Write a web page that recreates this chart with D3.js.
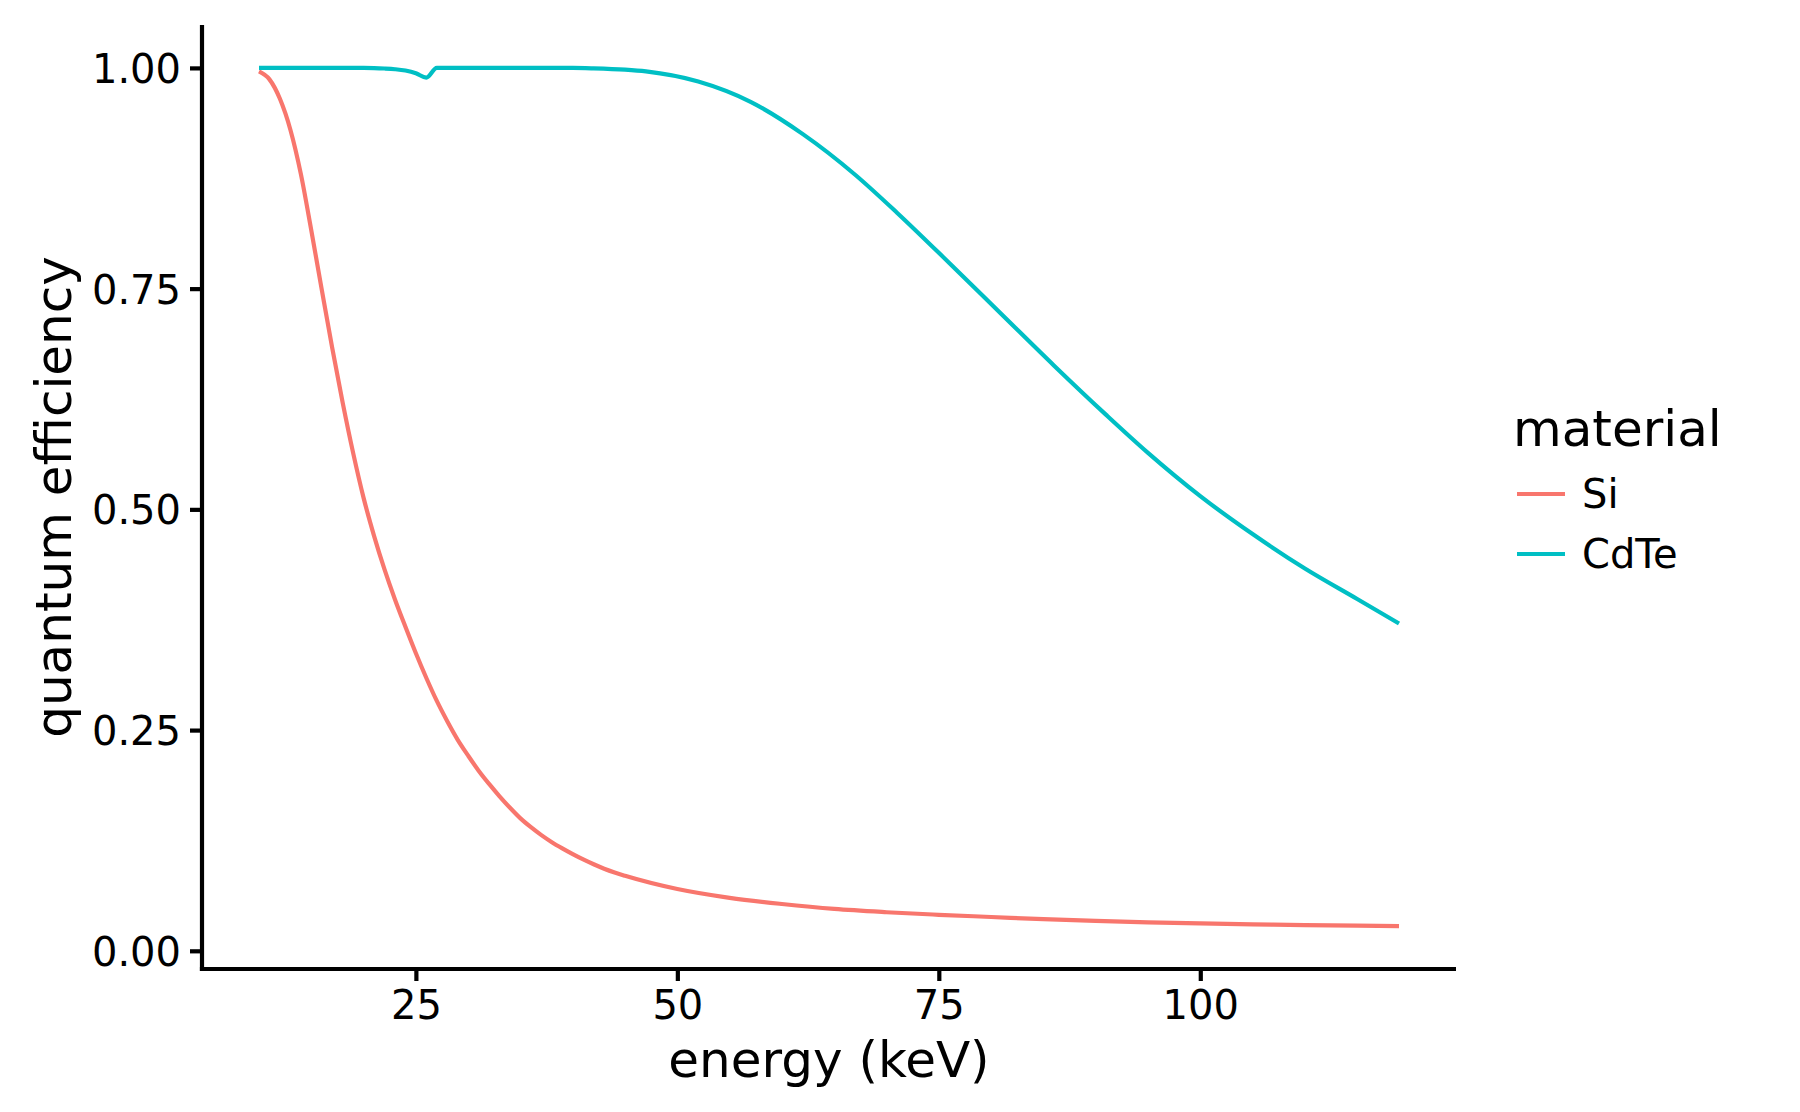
<!DOCTYPE html>
<html>
<head>
<meta charset="utf-8">
<script src="https://cdn.jsdelivr.net/npm/d3@7"></script>
<style>
  html, body { margin: 0; padding: 0; background: #fff; }
  svg { display: block; font-family: "DejaVu Sans", sans-serif; }
</style>
</head>
<body>
<svg id="chart" width="1800" height="1112"></svg>
<script>
// ---- data ----
const siEnergy = [10,11,12,13,14,15,16,17,18,19,20,21,22,23,24,25,26,27,28,29,30,31,32,33,34,35,36,37,38,39,40,41,42,43,44,45,50,55,60,65,70,75,80,85,90,95,100,105,110,115,119];
const siQE     = [0.996,0.987,0.965,0.930,0.880,0.816,0.749,0.683,0.621,0.564,0.513,0.470,0.432,0.398,0.367,0.337,0.309,0.283,0.260,0.239,0.221,0.204,0.189,0.175,0.162,0.150,0.140,0.131,0.123,0.116,0.1095,0.1035,0.098,0.093,0.0887,0.085,0.070,0.060,0.053,0.0474,0.0437,0.0408,0.0383,0.0358,0.0338,0.0322,0.031,0.030,0.0292,0.0285,0.028];

const cdteEnergy = [10,15,20,21,22,23,24,25,26,27,30,35,40,42,45,47,52,57,62,67,71,76,81,86,91,95,100,105,110,115,119];
const cdteQE     = [1.0,1.0,1.0,0.9998,0.9993,0.9985,0.997,0.994,0.989,1.0,1.0,1.0,1.0,0.9995,0.998,0.996,0.9845,0.9615,0.925,0.879,0.836,0.779,0.721,0.663,0.607,0.564,0.515,0.472,0.433,0.3985,0.3707];

const materials = ["Si", "CdTe"];
const colors = ["#F8766D", "#00BFC4"];
const xTicks = [25, 50, 75, 100];
const yTicks = [0, 0.25, 0.5, 0.75, 1.0];
const xTitle = "energy (keV)";
const yTitle = "quantum efficiency";
const legendTitle = "material";

// ---- layout ----
const panel = { left: 202, right: 1456, top: 25, bottom: 969 };
const xMin = 10, xMax = 119, yMin = 0.028, yMax = 1.0;
const xPad = (xMax - xMin) * 0.05, yPad = (yMax - yMin) * 0.05;

const x = d3.scaleLinear().domain([xMin - xPad, xMax + xPad]).range([panel.left, panel.right]);
const y = d3.scaleLinear().domain([yMin - yPad, yMax + yPad]).range([panel.bottom, panel.top]);

const svg = d3.select("#chart");
const lw = 4.2;

const series = [
  { name: materials[0], color: colors[0], pts: siEnergy.map((e, i) => [e, siQE[i]]) },
  { name: materials[1], color: colors[1], pts: cdteEnergy.map((e, i) => [e, cdteQE[i]]) }
];

const line = d3.line().x(d => x(d[0])).y(d => y(d[1])).curve(d3.curveMonotoneX);

svg.append("g").selectAll("path").data(series).join("path")
  .attr("d", d => line(d.pts))
  .attr("fill", "none")
  .attr("stroke", d => d.color)
  .attr("stroke-width", lw)
  .attr("stroke-linejoin", "round");

// ---- axes ----
const xAxis = d3.axisBottom(x).tickValues(xTicks).tickSize(12).tickPadding(9).tickFormat(d3.format("d"));
const yAxis = d3.axisLeft(y).tickValues(yTicks).tickSize(12).tickPadding(9).tickFormat(d3.format(".2f"));

const gx = svg.append("g").attr("transform", `translate(0,${panel.bottom})`).call(xAxis);
const gy = svg.append("g").attr("transform", `translate(${panel.left},0)`).call(yAxis);

[gx, gy].forEach(g => {
  g.select(".domain").remove();
  g.selectAll(".tick line").attr("stroke", "#000").attr("stroke-width", lw);
  g.selectAll(".tick text").attr("fill", "#000").style("font-size", "40px").style("font-family", "DejaVu Sans");
});
gy.selectAll(".tick text").attr("dy", "0.36em");
gx.selectAll(".tick text").attr("dy", "0.73em");

// axis lines
svg.append("line").attr("x1", panel.left).attr("x2", panel.left)
  .attr("y1", panel.top).attr("y2", panel.bottom + lw / 2)
  .attr("stroke", "#000").attr("stroke-width", lw);
svg.append("line").attr("x1", panel.left - lw / 2).attr("x2", panel.right)
  .attr("y1", panel.bottom).attr("y2", panel.bottom)
  .attr("stroke", "#000").attr("stroke-width", lw);

// axis titles
svg.append("text")
  .attr("x", (panel.left + panel.right) / 2).attr("y", 1077)
  .attr("text-anchor", "middle").style("font-size", "50px").attr("fill", "#000")
  .text(xTitle);
svg.append("text")
  .attr("transform", `translate(71,${(panel.top + panel.bottom) / 2}) rotate(-90)`)
  .attr("text-anchor", "middle").style("font-size", "50px").attr("fill", "#000")
  .text(yTitle);

// ---- legend ----
const lg = svg.append("g");
lg.append("text").attr("x", 1513).attr("y", 446).style("font-size", "50px").attr("fill", "#000").text(legendTitle);
const keyY = [494, 554];
series.forEach((s, i) => {
  lg.append("line").attr("x1", 1517).attr("x2", 1565).attr("y1", keyY[i]).attr("y2", keyY[i])
    .attr("stroke", s.color).attr("stroke-width", lw);
  lg.append("text").attr("x", 1582).attr("y", keyY[i]).attr("dy", "0.36em")
    .style("font-size", "40px").attr("fill", "#000").text(s.name);
});
</script>
</body>
</html>
